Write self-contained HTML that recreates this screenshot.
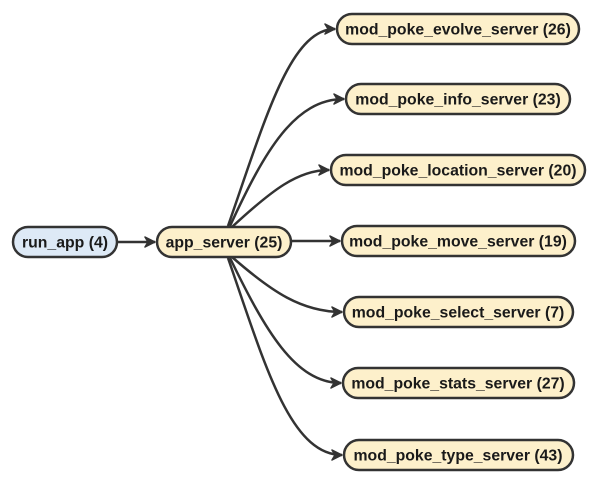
<!DOCTYPE html>
<html><head><style>
html,body{margin:0;padding:0;background:#fff;}
svg{display:block;}
text{font-family:"Liberation Sans",Arial,sans-serif;font-weight:bold;font-size:15.8px;fill:#1a1a1a;}
</style></head><body>
<svg width="599" height="483" viewBox="0 0 599 483" xmlns="http://www.w3.org/2000/svg">
<defs>
<marker id="a" viewBox="0 0 12 12" refX="11" refY="6" markerWidth="12" markerHeight="12" markerUnits="userSpaceOnUse" orient="auto">
<path d="M1,1 L11,6 L1,11 L4,6 Z" fill="#333" stroke="#333" stroke-width="1.5" stroke-linejoin="round"/>
</marker>
</defs>
<g fill="none" stroke="#333" stroke-width="2.5" marker-end="url(#a)">
<path d="M117,242 L155,242"/>
<path d="M291,241 L340,241"/>
<path d="M228,226 C265,120 290,29 335,29"/>
<path d="M230,226 C265,150 295,99 344,99"/>
<path d="M232,227 C272,190 298,170 329,170"/>
<path d="M232,257 C272,292 302,312 342,312"/>
<path d="M230,258 C265,330 295,383 341,383"/>
<path d="M228,258 C265,365 290,455 342,455"/>
</g>
<g stroke="#333" stroke-width="2.5">
<rect x="13" y="227" width="104" height="30" rx="15" fill="#dde9f6"/>
<rect x="157" y="227" width="134" height="30" rx="15" fill="#fdf0cb"/>
<rect x="337" y="14" width="242" height="30" rx="15" fill="#fdf0cb"/>
<rect x="346" y="84" width="224" height="30" rx="15" fill="#fdf0cb"/>
<rect x="331" y="155" width="254" height="30" rx="15" fill="#fdf0cb"/>
<rect x="342" y="226" width="233" height="30" rx="15" fill="#fdf0cb"/>
<rect x="344" y="297" width="229" height="30" rx="15" fill="#fdf0cb"/>
<rect x="343" y="368" width="231" height="30" rx="15" fill="#fdf0cb"/>
<rect x="344" y="440" width="229" height="30" rx="15" fill="#fdf0cb"/>
</g>
<g text-anchor="middle">
<text x="65" y="247.5">run_app (4)</text>
<text x="224" y="247.5">app_server (25)</text>
<text x="458" y="34.5">mod_poke_evolve_server (26)</text>
<text x="458" y="104.5">mod_poke_info_server (23)</text>
<text x="458" y="175.5">mod_poke_location_server (20)</text>
<text x="458" y="246.5">mod_poke_move_server (19)</text>
<text x="458" y="317.5">mod_poke_select_server (7)</text>
<text x="458" y="388.5">mod_poke_stats_server (27)</text>
<text x="458" y="460.5">mod_poke_type_server (43)</text>
</g>
</svg>
</body></html>
